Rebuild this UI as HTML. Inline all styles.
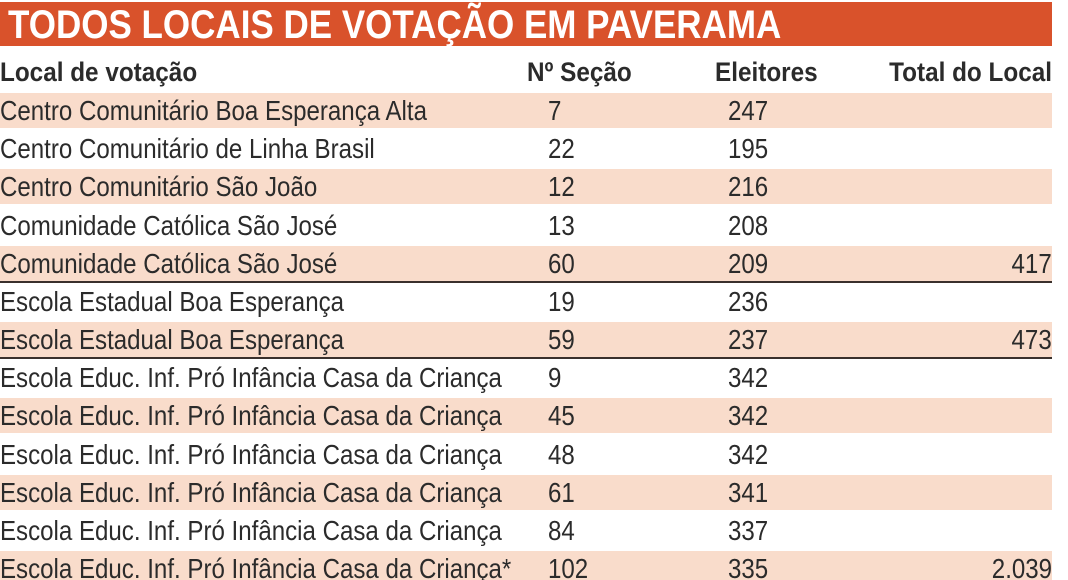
<!DOCTYPE html>
<html><head><meta charset="utf-8"><style>
html,body{margin:0;padding:0;background:#fff;width:1068px;height:580px;overflow:hidden;position:relative;font-family:"Liberation Sans Narrow","Liberation Sans",sans-serif;color:#2b2b2b}
#title{position:absolute;left:0;top:2px;width:1052px;height:44px;background:#d9522b}
#title span{position:absolute;left:8px;top:1px;font-family:"Liberation Sans",sans-serif;font-weight:bold;color:#fff;font-size:40px;line-height:44px;white-space:nowrap;transform-origin:0 50%;transform:scaleX(0.875)}
.h{position:absolute;top:55px;font-weight:bold;font-size:27px;line-height:34px;white-space:nowrap;transform:scaleX(0.9);transform-origin:0 50%}
.h.r{transform-origin:100% 50%}
.row{position:absolute;left:0;width:1052px;height:35px}
.row.p{background:#f9dccb}
.row.u{border-bottom:2px solid #3a302c}
.c{position:absolute;top:0;font-size:28px;line-height:35px;white-space:nowrap;transform:scaleX(0.86);transform-origin:0 50%}
.c.r{transform-origin:100% 50%}
</style></head><body>
<div id="title"><span>TODOS LOCAIS DE VOTAÇÃO EM PAVERAMA</span></div>
<div class="h" style="left:0">Local de votação</div>
<div class="h" style="left:527px">Nº Seção</div>
<div class="h" style="left:715px">Eleitores</div>
<div class="h r" style="right:16px">Total do Local</div>
<div id="rows"></div>
<script>
const locais=["Centro Comunitário Boa Esperança Alta","Centro Comunitário de Linha Brasil","Centro Comunitário São João","Comunidade Católica São José","Comunidade Católica São José","Escola Estadual Boa Esperança","Escola Estadual Boa Esperança","Escola Educ. Inf. Pró Infância Casa da Criança","Escola Educ. Inf. Pró Infância Casa da Criança","Escola Educ. Inf. Pró Infância Casa da Criança","Escola Educ. Inf. Pró Infância Casa da Criança","Escola Educ. Inf. Pró Infância Casa da Criança","Escola Educ. Inf. Pró Infância Casa da Criança*"];
const secoes=["7","22","12","13","60","19","59","9","45","48","61","84","102"];
const eleitores=["247","195","216","208","209","236","237","342","342","342","341","337","335"];
const totais=["","","","","417","","473","","","","","","2.039"];
const wrap=document.getElementById('rows');
locais.forEach((l,i)=>{
  const r=document.createElement('div');
  r.className='row'+(i%2===0?' p':'')+((totais[i]&&i<12)?' u':'');
  r.style.top=(93+i*38.17)+'px';
  
  
  const cells=[[l,'left:0'],[secoes[i],'left:548px'],[eleitores[i],'left:728px'],[totais[i],'right:0']];
  cells.forEach(([t,pos],k)=>{
    const c=document.createElement('div');
    c.className='c'+(k===3?' r':'');c.style.cssText=pos;c.textContent=t;
    
    
    r.appendChild(c);
  });
  wrap.appendChild(r);
});
</script>
</body></html>
